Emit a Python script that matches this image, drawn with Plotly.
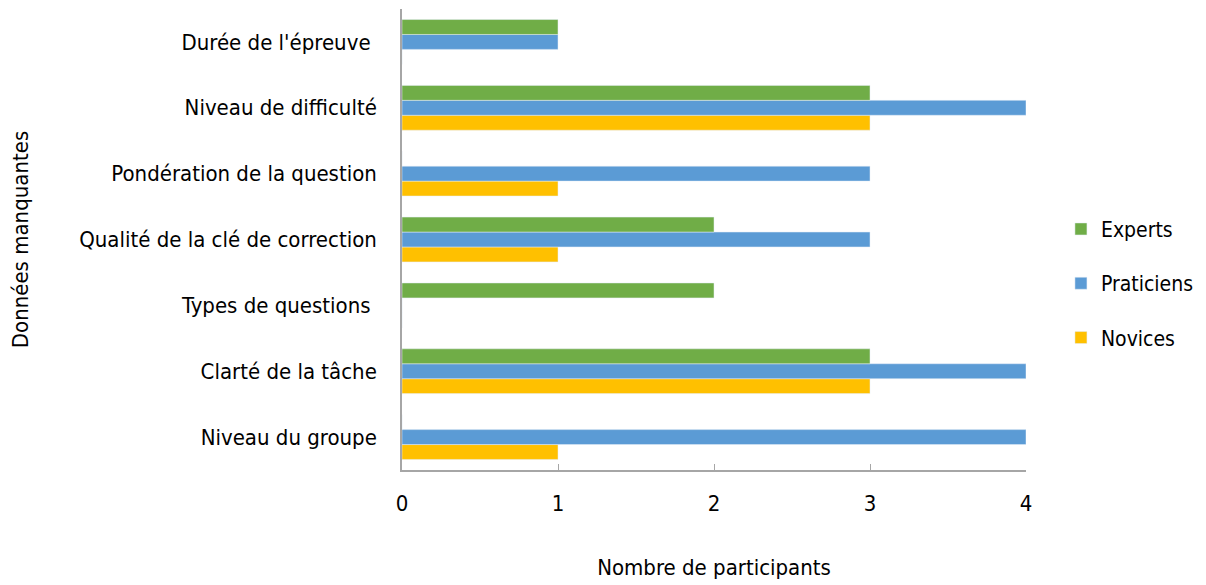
import plotly.graph_objects as go

# données (de bas en haut)
categories = [
    "Niveau du groupe",
    "Clarté de la tâche",
    "Types de questions ",
    "Qualité de la clé de correction",
    "Pondération de la question",
    "Niveau de difficulté",
    "Durée de l'épreuve ",
]
novices = [1, 3, 0, 1, 1, 3, 0]
praticiens = [4, 4, 0, 3, 3, 4, 1]
experts = [0, 3, 2, 2, 0, 3, 1]

police = "DejaVu Sans Condensed, Roboto, sans-serif"

fig = go.Figure()
fig.add_trace(go.Bar(y=categories, x=novices, name="Novices", orientation="h",
                     marker_color="#FFC000", legendgroup="n", legendrank=3))
fig.add_trace(go.Bar(y=categories, x=praticiens, name="Praticiens", orientation="h",
                     marker_color="#5B9BD5", legendgroup="p", legendrank=2))
fig.add_trace(go.Bar(y=categories, x=experts, name="Experts", orientation="h",
                     marker_color="#70AD47", legendgroup="e", legendrank=1))

# la page ajoute 8 px de marge au corps : on compense
fig.update_layout(
    width=1206, height=585,
    barmode="group", bargap=0.32, bargroupgap=0,
    plot_bgcolor="white", paper_bgcolor="white",
    font=dict(family=police, size=22, color="black"),
    margin=dict(l=394, r=188, t=1, b=123, autoexpand=False),
    legend=dict(traceorder="grouped", x=1.056, y=0.405, yanchor="middle",
                tracegroupgap=24, font=dict(family=police, size=21)),
)
fig.update_xaxes(
    range=[0, 4], dtick=1, showgrid=False, automargin=False,
    showline=True, linecolor="#A6A6A6", linewidth=1.5,
    ticks="inside", ticklen=6, tickcolor="#A6A6A6",
    ticklabelstandoff=13,
    title=dict(text="Nombre de participants", standoff=44,
               font=dict(family=police, size=22)),
)
fig.update_yaxes(
    showgrid=False, automargin=False,
    showline=True, linecolor="#A6A6A6", linewidth=1.5,
    ticks="", ticklabelstandoff=19,
    title=dict(text="Données manquantes", standoff=45,
               font=dict(family=police, size=22)),
)

fig.write_html("out.html")
